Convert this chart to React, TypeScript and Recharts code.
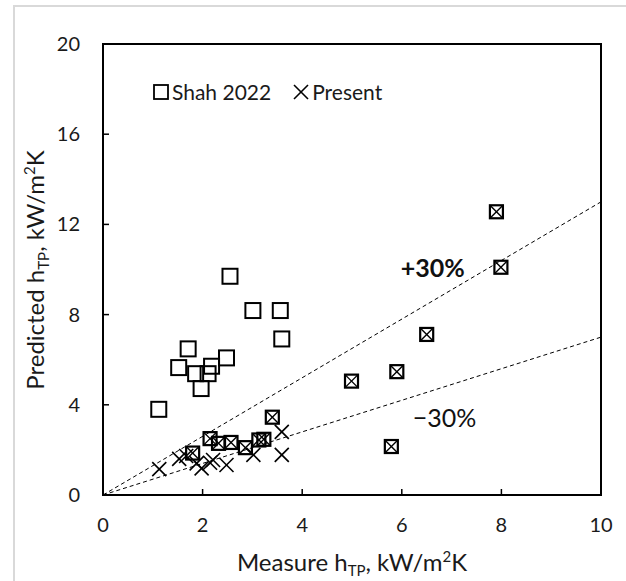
import {
  ScatterChart,
  Scatter,
  XAxis,
  YAxis,
  ReferenceLine,
  ReferenceArea,
  ReferenceDot,
} from "recharts";

// Shah 2022 correlation only
const shahPoints = [
  { x: 1.12, y: 3.8 },
  { x: 1.52, y: 5.65 },
  { x: 1.71, y: 6.48 },
  { x: 1.86, y: 5.38 },
  { x: 1.97, y: 4.72 },
  { x: 2.11, y: 5.38 },
  { x: 2.18, y: 5.71 },
  { x: 2.48, y: 6.08 },
  { x: 2.55, y: 9.7 },
  { x: 3.01, y: 8.18 },
  { x: 3.56, y: 8.18 },
  { x: 3.59, y: 6.92 },
];

// present correlation only
const presentPoints = [
  { x: 1.13, y: 1.15 },
  { x: 1.53, y: 1.6 },
  { x: 1.67, y: 1.73 },
  { x: 1.88, y: 1.4 },
  { x: 1.98, y: 1.18 },
  { x: 2.15, y: 1.43 },
  { x: 2.21, y: 1.55 },
  { x: 2.48, y: 1.33 },
  { x: 3.02, y: 1.78 },
  { x: 3.59, y: 2.8 },
  { x: 3.59, y: 1.78 },
];

// points where both predictions fall together
const bothPoints = [
  { x: 1.8, y: 1.86 },
  { x: 2.15, y: 2.5 },
  { x: 2.32, y: 2.29 },
  { x: 2.57, y: 2.33 },
  { x: 2.86, y: 2.1 },
  { x: 3.13, y: 2.44 },
  { x: 3.23, y: 2.47 },
  { x: 3.4, y: 3.45 },
  { x: 4.99, y: 5.05 },
  { x: 5.9, y: 5.47 },
  { x: 5.79, y: 2.15 },
  { x: 6.5, y: 7.12 },
  { x: 7.9, y: 12.56 },
  { x: 7.99, y: 10.1 },
];

const xTicks = [0, 2, 4, 6, 8, 10];
const yTicks = [0, 4, 8, 12, 16, 20];
const bandSlopes = [1.3, 0.7];

const FONT = "Lato, 'Open Sans', sans-serif";
const PLOT_LEFT = 103;
const PLOT_BOTTOM = 495;

const SquareShape = (props: any) => {
  const { cx, cy } = props;
  const s = 15;
  return (
    <rect
      x={cx - s / 2}
      y={cy - s / 2}
      width={s}
      height={s}
      fill="none"
      stroke="#000"
      strokeWidth={2}
    />
  );
};

const CrossShape = (props: any) => {
  const { cx, cy } = props;
  const h = 7;
  return (
    <g stroke="#000" strokeWidth={1.6}>
      <line x1={cx - h} y1={cy - h} x2={cx + h} y2={cy + h} />
      <line x1={cx - h} y1={cy + h} x2={cx + h} y2={cy - h} />
    </g>
  );
};

const BoxCrossShape = (props: any) => {
  const { cx, cy } = props;
  const s = 13;
  const h = s / 2;
  return (
    <g stroke="#000" fill="none">
      <rect x={cx - h} y={cy - h} width={s} height={s} strokeWidth={2.2} />
      <line x1={cx - h} y1={cy - h} x2={cx + h} y2={cy + h} strokeWidth={1.4} />
      <line x1={cx - h} y1={cy + h} x2={cx + h} y2={cy - h} strokeWidth={1.4} />
    </g>
  );
};

const XTick = (props: any) => {
  const { x, payload } = props;
  return (
    <g>
      <line x1={x} y1={PLOT_BOTTOM} x2={x} y2={PLOT_BOTTOM - 6} stroke="#000" strokeWidth={1.5} />
      <text x={x} y={PLOT_BOTTOM + 37} textAnchor="middle" fontSize={20} fill="#1a1a1a" fontFamily={FONT}>
        {payload.value}
      </text>
    </g>
  );
};

const YTick = (props: any) => {
  const { y, payload } = props;
  return (
    <g>
      <line x1={PLOT_LEFT} y1={y} x2={PLOT_LEFT + 6} y2={y} stroke="#000" strokeWidth={1.5} />
      <text x={80} y={y} dy={7} textAnchor="end" fontSize={20} fill="#1a1a1a" fontFamily={FONT}>
        {payload.value}
      </text>
    </g>
  );
};

const XTitle = (props: any) => {
  const { viewBox } = props;
  const cx = viewBox.x + viewBox.width / 2;
  return (
    <text x={cx} y={PLOT_BOTTOM + 76} textAnchor="middle" fontSize={24} fill="#1a1a1a" fontFamily={FONT}>
      Measure h
      <tspan fontSize={15} dy={5}>TP</tspan>
      <tspan dy={-5}>, kW/m</tspan>
      <tspan fontSize={15} dy={-9}>2</tspan>
      <tspan dy={9}>K</tspan>
    </text>
  );
};

const YTitle = () => (
  <text
    transform="translate(44,270) rotate(-90)"
    textAnchor="middle"
    fontSize={24}
    fill="#1a1a1a"
    fontFamily={FONT}
  >
    Predicted h
    <tspan fontSize={15} dy={5}>TP</tspan>
    <tspan dy={-5}>, kW/m</tspan>
    <tspan fontSize={15} dy={-9}>2</tspan>
    <tspan dy={9}>K</tspan>
  </text>
);

const LegendBox = () => (
  <div
    style={{
      position: "absolute",
      left: 153,
      top: 79,
      display: "flex",
      alignItems: "center",
      fontFamily: FONT,
      fontSize: 21,
      lineHeight: "26px",
      color: "#1a1a1a",
    }}
  >
    <svg width={16} height={16} style={{ marginRight: 3 }}>
      <rect x={1} y={1} width={14} height={14} fill="none" stroke="#000" strokeWidth={1.8} />
    </svg>
    <span>Shah 2022</span>
    <svg width={16} height={16} style={{ marginLeft: 22, marginRight: 3 }}>
      <line x1={1} y1={1} x2={15} y2={15} stroke="#000" strokeWidth={1.6} />
      <line x1={1} y1={15} x2={15} y2={1} stroke="#000" strokeWidth={1.6} />
    </svg>
    <span>Present</span>
  </div>
);

const BandLabel = (text: string, bold: boolean) => (props: any) => {
  const { viewBox } = props;
  const cx = viewBox.x + viewBox.width / 2;
  const cy = viewBox.y + viewBox.height / 2;
  return (
    <text
      x={cx}
      y={cy + 9}
      textAnchor="middle"
      fontSize={25}
      fontWeight={bold ? 700 : 400}
      fill="#111"
      fontFamily={FONT}
    >
      {text}
    </text>
  );
};

export default function App() {
  return (
    <div style={{ position: "absolute", left: 0, top: 0, width: 626, height: 581, background: "#fff", overflow: "hidden" }}>
      <div
        style={{
          position: "absolute",
          left: 13,
          top: 5,
          width: 640,
          height: 600,
          borderLeft: "2px solid #d9d9d9",
          borderTop: "2px solid #d9d9d9",
        }}
      />
      <ScatterChart
        width={626}
        height={581}
        margin={{ top: 44, right: 25, bottom: 56, left: 43 }}
        style={{ position: "absolute", left: 0, top: 0 }}
      >
        <XAxis
          type="number"
          dataKey="x"
          domain={[0, 10]}
          ticks={xTicks}
          height={30}
          tickLine={false}
          tickSize={0}
          axisLine={{ stroke: "#000", strokeWidth: 2 }}
          tick={<XTick />}
          label={<XTitle />}
        />
        <YAxis
          type="number"
          dataKey="y"
          domain={[0, 20]}
          ticks={yTicks}
          width={60}
          tickLine={false}
          tickSize={0}
          axisLine={{ stroke: "#000", strokeWidth: 2 }}
          tick={<YTick />}
          label={<YTitle />}
        />
        <ReferenceArea x1={0} x2={10} y1={0} y2={20} fill="none" stroke="#000" strokeWidth={2} />
        {bandSlopes.map((k) => (
          <ReferenceLine
            key={k}
            segment={[
              { x: 0, y: 0 },
              { x: 10, y: 10 * k },
            ]}
            stroke="#000"
            strokeWidth={1}
            strokeDasharray="4 3"
          />
        ))}
        <ReferenceDot x={6.62} y={10.05} r={0} label={BandLabel("+30%", true)} />
        <ReferenceDot x={6.86} y={3.4} r={0} label={BandLabel("\u221230%", false)} />
        <Scatter name="Shah 2022" data={shahPoints} shape={SquareShape} isAnimationActive={false} />
        <Scatter name="Present" data={presentPoints} shape={CrossShape} isAnimationActive={false} />
        <Scatter name="Both" data={bothPoints} shape={BoxCrossShape} legendType="none" isAnimationActive={false} />
      </ScatterChart>
      <LegendBox />
    </div>
  );
}
